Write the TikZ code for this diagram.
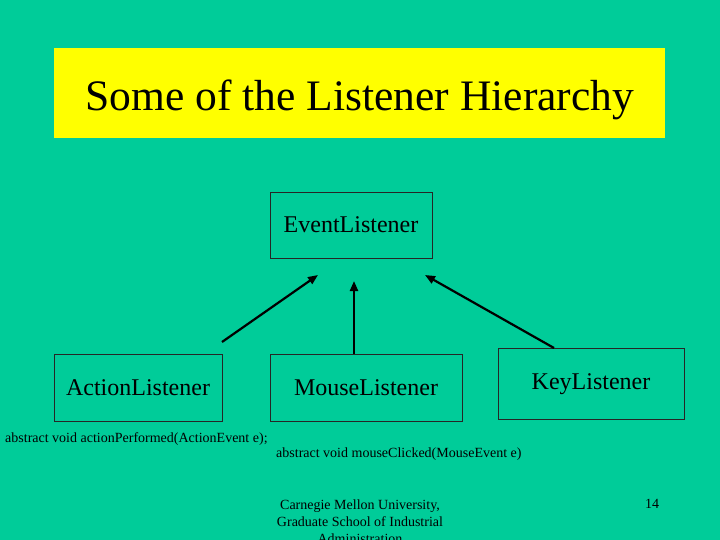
\documentclass[tikz,border=0pt]{standalone}
\usepackage{fontspec}
\setmainfont{Liberation Serif}
\usetikzlibrary{arrows.meta}
\definecolor{bg}{RGB}{0,204,153}
\definecolor{ttl}{RGB}{255,255,0}
\tikzset{
  cls/.style={draw=black!85, line width=0.8pt, font=\fontsize{24}{28}\selectfont, inner sep=0pt},
  inh/.style={line width=2.2pt, -{Triangle[length=10pt,width=8pt]}},
  small/.style={font=\fontsize{14}{16}\selectfont, inner sep=0pt, anchor=west},
  foot/.style={font=\fontsize{14}{17}\selectfont, inner sep=0pt, align=center}
}
\begin{document}
\begin{tikzpicture}[x=1pt,y=-1pt]
\useasboundingbox (0,0) rectangle (720,540);
\clip (0,0) rectangle (720,540);
\fill[bg] (0,0) rectangle (720,540);
\fill[ttl] (54,48) rectangle (665,138);
\node[inner sep=0pt, font=\fontsize{43.5}{50}\selectfont] (title) at (360,100) {Some of the Listener Hierarchy};
\node[cls, minimum width=162pt, minimum height=66pt] (ev) at (351,225) {EventListener};
\node[cls, minimum width=168pt, minimum height=67pt] (al) at (138,387.5) {ActionListener};
\node[cls, minimum width=192pt, minimum height=67pt] (ml) at (366,387.5) {MouseListener};
\node[cls, minimum width=186pt, minimum height=71pt, text depth=3pt] (kl) at (591,383.5) {KeyListener};
\coordinate (a1s) at (222,342);
\coordinate (a1e) at (318,275);
\coordinate (a2s) at (354,354);
\coordinate (a2e) at (354,281);
\coordinate (a3s) at (554,348);
\coordinate (a3e) at (425,275);
\draw[inh] (a1s) -- (a1e);
\draw[inh] (ml.north -| a2s) -- (a2e);
\draw[inh] (a3s) -- (a3e);
\node[small] (am) at (5,439) {abstract void actionPerformed(ActionEvent e);};
\node[small] (mm) at (276,454) {abstract void mouseClicked(MouseEvent e)};
\node[foot, anchor=north] (ft) at (360,500) {Carnegie Mellon University,\\Graduate School of Industrial\\Administration};
\node[foot] (pg) at (652,504) {14};
\end{tikzpicture}
\end{document}
